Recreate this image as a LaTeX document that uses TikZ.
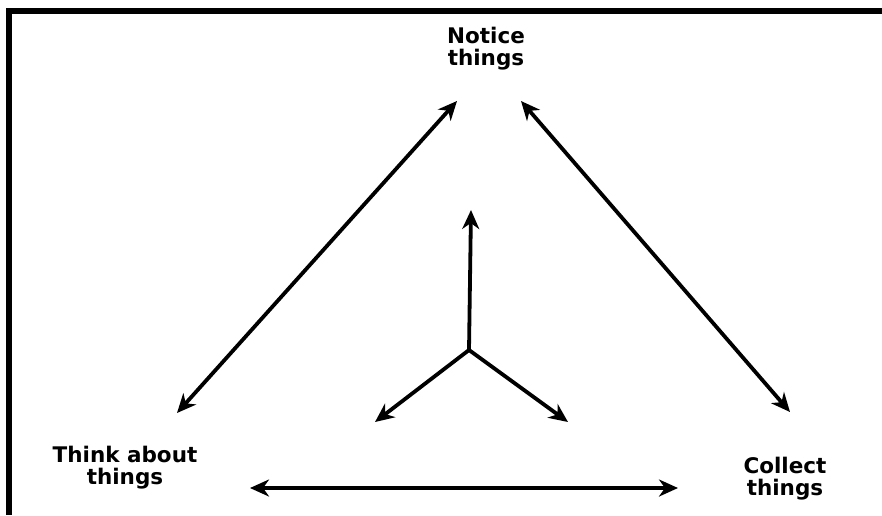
\documentclass[tikz,border=0pt]{standalone}
\usepackage{fontspec}
\setmainfont{DejaVu Sans}
\usetikzlibrary{arrows.meta}
\tikzset{
  lbl/.style={inner sep=0pt, align=center, font=\bfseries\fontsize{21.5}{22}\selectfont},
  arr/.style={line width=3.8pt, {Stealth[length=19pt,width=17pt,inset=6pt]}-{Stealth[length=19pt,width=17pt,inset=6pt]}},
  sarr/.style={line width=3.8pt, -{Stealth[length=19pt,width=17pt,inset=6pt]}},
  frame/.style={fill=black, draw=none}
}
\begin{document}
\begin{tikzpicture}[x=1pt,y=-1pt]
\useasboundingbox (0,0) rectangle (882,515);
% frame (top and left)
\fill[frame] (6,8) rectangle (882,14);
\fill[frame] (6,8) rectangle (12,515);
% labels
\node[lbl] (notice) at (486,48.7) {Notice\\things};
\node[lbl] (think) at (125,467.5) {Think about\\things};
\node[lbl] (collect) at (785,479) {Collect\\things};
% arrow end points
\coordinate (nl) at (457,101);
\coordinate (nr) at (521,101);
\coordinate (tl) at (177,413);
\coordinate (cr) at (790,412);
\coordinate (bl) at (250,488);
\coordinate (br) at (678,488);
\coordinate (c) at (469,350);
\coordinate (cu) at (471,210);
\coordinate (cl) at (375,422);
\coordinate (cre) at (568,422);
% connectors
\draw[arr] (tl) -- (nl);
\draw[arr] (nr) -- (cr);
\draw[arr] (bl) -- (br);
\draw[sarr] (c) -- (cu);
\draw[sarr] (c) -- (cl);
\draw[sarr] (c) -- (cre);
\end{tikzpicture}
\end{document}
